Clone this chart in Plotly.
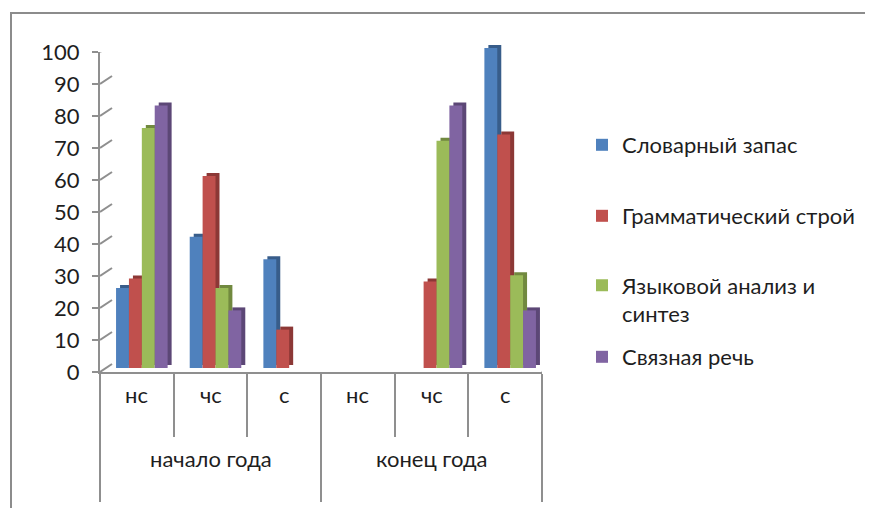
import plotly.graph_objects as go

# ---- data ----
groups = ["начало года", "начало года", "начало года", "конец года", "конец года", "конец года"]
levels = ["нс", "чс", "с", "нс", "чс", "с"]
series_names = ["Словарный запас", "Грамматический строй", "Языковой анализ и<br>синтез", "Связная речь"]
vocab = [25, 41, 34, 0, 0, 100]
grammar = [28, 60, 12, 0, 27, 73]
language = [75, 25, 0, 0, 71, 29]
speech = [82, 18, 0, 0, 82, 18]
y_ticks = [0, 10, 20, 30, 40, 50, 60, 70, 80, 90, 100]

series_values = [vocab, grammar, language, speech]
colors = ["#4F81BD", "#C0504D", "#9BBB59", "#8064A2"]
side_colors = ["#385D8A", "#8C3836", "#71893F", "#5C4776"]

# page body has an 8px margin; figure fills the rest of the 873x508 window
OFF = 8
W, H = 873 - OFF, 508 - OFF
FONT = "Lato"
GRID = "#8f8f8f"
TXT = "#1e1e1e"

xpos = list(range(len(levels)))
xrange_ = [-0.5, len(levels) - 0.5]

fig = go.Figure()

# dark "side/top" copies (3D look), drawn behind bars
for vals, c in zip(series_values, side_colors):
    fig.add_trace(go.Bar(x=xpos, y=vals, marker=dict(color=c, line=dict(width=0)),
                         xaxis="x2", yaxis="y2", showlegend=False, hoverinfo="skip"))

# main bars
legend_ids = ["legend", "legend2", "legend3", "legend4"]
for name, vals, c, lg in zip(series_names, series_values, colors, legend_ids):
    fig.add_trace(go.Bar(x=xpos, y=vals, name=name, marker=dict(color=c, line=dict(width=0)),
                         xaxis="x3", yaxis="y3", legend=lg))

def fx(px):
    return (px - OFF) / W

def fy(py):
    return (H - (py - OFF)) / H

def dom_x(a, b):
    return [fx(a), fx(b)]

def dom_y(top, bottom):
    return [fy(bottom), fy(top)]

# boundaries between categories
boundaries = [i - 0.5 for i in range(len(levels) + 1)]
major = [b for i, b in enumerate(boundaries)
         if i == 0 or i == len(levels) or groups[i] != groups[i - 1]]
minor = [b for b in boundaries if b not in major]

fig.update_layout(
    template="none",
    width=W, height=H, autosize=False,
    margin=dict(l=0, r=0, t=0, b=0, pad=0),
    paper_bgcolor="white", plot_bgcolor="rgba(0,0,0,0)",
    font=dict(family=FONT, size=22, color=TXT),
    barmode="group", bargap=0.3, bargroupgap=0,
    # back wall (gridlines)
    xaxis=dict(domain=dom_x(112, 554), range=xrange_, showgrid=False, zeroline=False,
               showline=False, showticklabels=False, ticks="", fixedrange=True, automargin=False),
    yaxis=dict(domain=dom_y(44, 364), range=[0, 100], tickvals=y_ticks, showgrid=True,
               gridcolor=GRID, gridwidth=2, zeroline=False, showline=False,
               showticklabels=False, ticks="", anchor="x", fixedrange=True, automargin=False),
    # side copies
    xaxis2=dict(domain=dom_x(109, 551), range=xrange_, visible=False, anchor="y2", automargin=False),
    yaxis2=dict(domain=dom_y(45, 365), range=[0, 100], visible=False, anchor="x2", automargin=False),
    # bars
    xaxis3=dict(domain=dom_x(105, 547), range=xrange_, visible=False, anchor="y3", automargin=False),
    yaxis3=dict(domain=dom_y(48, 368), range=[0, 100], visible=False, anchor="x3", automargin=False),
    # front axes
    xaxis4=dict(domain=dom_x(100, 542), range=xrange_, anchor="y4", automargin=False,
                tickmode="array", tickvals=major, ticks="outside", ticklen=128,
                tickwidth=2, tickcolor=GRID, showticklabels=False,
                showline=True, linecolor=GRID, linewidth=2, showgrid=False, zeroline=False,
                minor=dict(tickmode="array", tickvals=minor, ticks="outside", ticklen=63,
                           tickwidth=2, tickcolor=GRID, showgrid=False)),
    yaxis4=dict(domain=dom_y(52, 372), range=[0, 100], anchor="x4", automargin=False,
                tickmode="array", tickvals=y_ticks, ticks="outside", ticklen=6,
                tickwidth=2, tickcolor=GRID, showline=True, linecolor=GRID, linewidth=2,
                showgrid=False, zeroline=False, ticklabelstandoff=8,
                tickfont=dict(size=22, color=TXT)),
)

# legends (one per series, placed like the original)
leg_common = dict(bgcolor="rgba(0,0,0,0)", font=dict(size=22, color=TXT),
                  xanchor="left", x=fx(622 - 40), itemclick=False, itemdoubleclick=False,
                  borderwidth=0)
fig.update_layout(
    legend=dict(**leg_common, y=fy(145), yanchor="middle"),
    legend2=dict(**leg_common, y=fy(216), yanchor="middle"),
    legend3=dict(**leg_common, y=fy(300), yanchor="middle", valign="top"),
    legend4=dict(**leg_common, y=fy(357), yanchor="middle"),
)

shapes = []
# diagonal connectors from front ticks to back wall
for v in y_ticks:
    shapes.append(dict(type="line", xref="x4", yref="y4",
                       xsizemode="pixel", xanchor=xrange_[0], x0=0, x1=12,
                       ysizemode="pixel", yanchor=v, y0=0, y1=8,
                       line=dict(color=GRID, width=2)))
# floor right edge
shapes.append(dict(type="line", xref="x4", yref="y4",
                   xsizemode="pixel", xanchor=xrange_[1], x0=0, x1=12,
                   ysizemode="pixel", yanchor=0, y0=0, y1=8,
                   line=dict(color=GRID, width=2)))
# outer chart border
shapes.append(dict(type="rect", xref="paper", yref="paper",
                   x0=fx(11), x1=1.05, y0=-0.05, y1=fy(13),
                   line=dict(color="#8c8c8c", width=2), fillcolor="rgba(0,0,0,0)"))
fig.update_layout(shapes=shapes)

# category labels
annotations = []
for i, lab in enumerate(levels):
    annotations.append(dict(x=i, y=fy(410), xref="x4", yref="paper", text=lab,
                            showarrow=False, font=dict(size=22, color=TXT)))
seen = []
for g in groups:
    if g not in seen:
        seen.append(g)
for g in seen:
    idx = [i for i, gg in enumerate(groups) if gg == g]
    annotations.append(dict(x=sum(idx) / len(idx), y=fy(474), xref="x4", yref="paper",
                            text=g, showarrow=False, font=dict(size=22, color=TXT)))
fig.update_layout(annotations=annotations)

fig.write_html("out.html")
